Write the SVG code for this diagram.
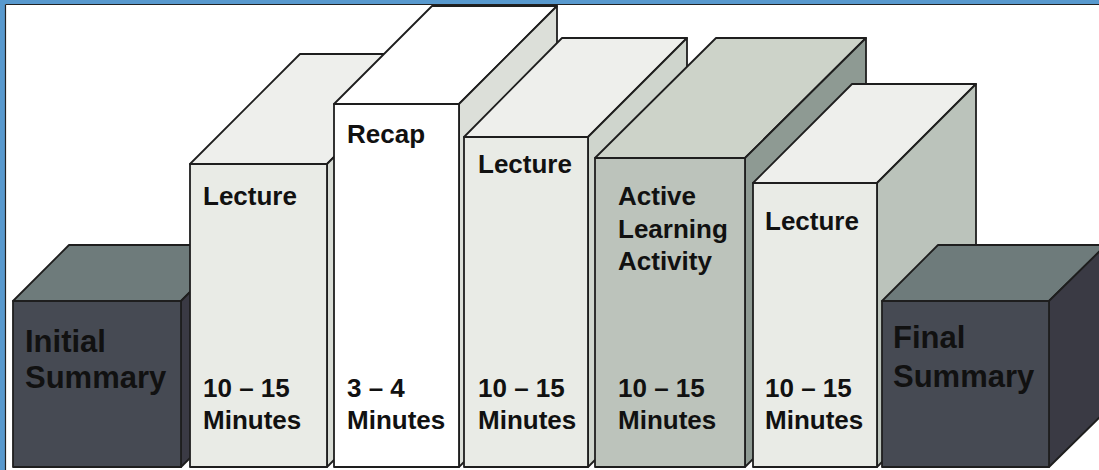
<svg xmlns="http://www.w3.org/2000/svg" width="1099" height="470" viewBox="0 0 1099 470">
<style>
  .edge { stroke: #1e1e1e; stroke-width: 1.8; stroke-linejoin: round; }
  .lbl { font-family: "Liberation Sans", Arial, sans-serif; font-weight: bold; font-size: 26px; fill: #111; }
  .big { font-size: 31px; }
  .lec-f { fill: #e9ebe6; } .lec-t { fill: #eeefec; }
  .sum-f { fill: #464a53; } .sum-t { fill: #6e7b7b; } .sum-s { fill: #3a3a44; }
</style>
<rect x="0" y="0" width="1099" height="470" fill="#ffffff"/>
<rect x="0" y="0" width="1099" height="4" fill="#5899ce"/>
<rect x="0" y="0" width="5" height="470" fill="#5899ce"/>
<line x1="5.5" y1="4.5" x2="1099" y2="4.5" stroke="#222" stroke-width="1.2"/>
<line x1="5.5" y1="4.5" x2="5.5" y2="470" stroke="#222" stroke-width="1.2"/>

<g id="initial-summary">
  <polygon class="edge sum-t" points="13,301 69,245 237,245 181,301"/>
  <polygon class="edge sum-s" points="181,301 237,245 237,411 181,467"/>
  <rect class="edge sum-f" x="13" y="301" width="168" height="166"/>
  <text class="lbl big" x="25" y="352">Initial</text>
  <text class="lbl big" x="25" y="388">Summary</text>
</g>

<g id="lecture-1">
  <polygon class="edge lec-t" points="190,164 300,54 437,54 327,164"/>
  <polygon class="edge" fill="#d9ddd6" points="327,164 437,54 437,357 327,467"/>
  <rect class="edge lec-f" x="190" y="164" width="137" height="303"/>
  <text class="lbl" x="203" y="205">Lecture</text>
  <text class="lbl" x="203" y="397">10 – 15</text>
  <text class="lbl" x="203" y="429">Minutes</text>
</g>

<g id="recap">
  <polygon class="edge" fill="#ffffff" points="334,104 432,6 557,6 459,104"/>
  <polygon class="edge" fill="#dcdfd9" points="459,104 557,6 557,369 459,467"/>
  <rect class="edge" fill="#ffffff" x="334" y="104" width="125" height="363"/>
  <text class="lbl" x="347" y="143">Recap</text>
  <text class="lbl" x="347" y="397">3 – 4</text>
  <text class="lbl" x="347" y="429">Minutes</text>
</g>

<g id="lecture-2">
  <polygon class="edge lec-t" points="464,137 562,38 687,38 588,137"/>
  <polygon class="edge" fill="#cfd5cd" points="588,137 687,38 687,368 588,467"/>
  <rect class="edge lec-f" x="464" y="137" width="124" height="330"/>
  <text class="lbl" x="478" y="173">Lecture</text>
  <text class="lbl" x="478" y="397">10 – 15</text>
  <text class="lbl" x="478" y="429">Minutes</text>
</g>

<g id="active-learning">
  <polygon class="edge" fill="#cdd3c9" points="595,158 716,38 866,38 745,158"/>
  <polygon class="edge" fill="#8e9a93" points="745,158 866,38 866,346 745,467"/>
  <rect class="edge" fill="#bcc3bb" x="595" y="158" width="150" height="309"/>
  <text class="lbl" x="618" y="205">Active</text>
  <text class="lbl" x="618" y="238">Learning</text>
  <text class="lbl" x="618" y="270">Activity</text>
  <text class="lbl" x="618" y="397">10 – 15</text>
  <text class="lbl" x="618" y="429">Minutes</text>
</g>

<g id="lecture-3">
  <polygon class="edge lec-t" points="753,183 852,84 976,84 877,183"/>
  <polygon class="edge" fill="#bbc3bb" points="877,183 976,84 976,368 877,467"/>
  <rect class="edge lec-f" x="753" y="183" width="124" height="284"/>
  <text class="lbl" x="765" y="230">Lecture</text>
  <text class="lbl" x="765" y="397">10 – 15</text>
  <text class="lbl" x="765" y="429">Minutes</text>
</g>

<g id="final-summary">
  <polygon class="edge sum-t" points="882,301 938,245 1106,245 1049,301"/>
  <polygon class="edge sum-s" points="1049,301 1106,245 1106,411 1049,467"/>
  <rect class="edge sum-f" x="882" y="301" width="167" height="166"/>
  <text class="lbl big" x="893" y="348">Final</text>
  <text class="lbl big" x="893" y="387">Summary</text>
</g>

<g id="connectors"></g>
</svg>
